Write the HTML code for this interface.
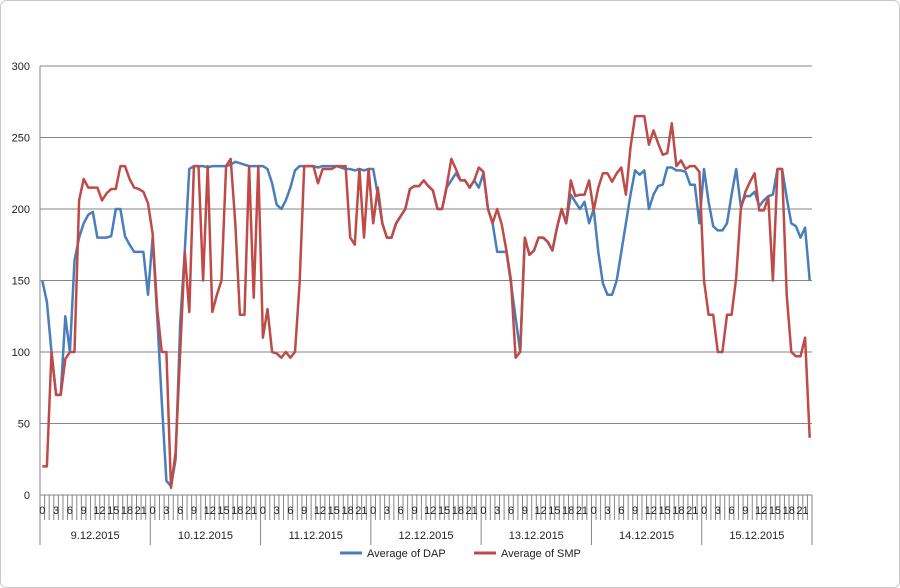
<!DOCTYPE html>
<html><head><meta charset="utf-8"><style>
body{margin:0;background:#fff;}
svg{display:block;font-family:"Liberation Sans",sans-serif;}
</style></head><body>
<svg id="chart" width="900" height="588" viewBox="0 0 900 588">
<rect x="0.5" y="0.5" width="899" height="587" rx="6" fill="#fff" stroke="#c8c8c8"/>
<g id="grid"></g>
<g id="yticks"></g>
<g id="xaxis"></g>
<g id="series"></g>
<g>
<g><line x1="340" y1="553" x2="362" y2="553" stroke="#4a7ebb" stroke-width="3"/><text x="367" y="557" font-size="11" fill="#222">Average of DAP</text></g>
<g><line x1="474" y1="553" x2="496" y2="553" stroke="#be4b48" stroke-width="3"/><text x="501" y="557" font-size="11" fill="#222">Average of SMP</text></g>
</g>
</svg>
<script>
const days=["9.12.2015","10.12.2015","11.12.2015","12.12.2015","13.12.2015","14.12.2015","15.12.2015"];
const yTicks=[0,50,100,150,200,250,300];
const dap=[150,135,100,70,70,125,100,164,180,190,196,198,180,180,180,181,200,200,181,175,170,170,170,140,
180,125,65,10,6,25,120,171,228,230,230,230,229,230,230,230,230,231,233,232,231,230,230,230,
230,228,218,203,200,206,215,227,230,230,230,230,229,230,230,230,230,229,228,228,227,228,227,228,
228,210,190,180,180,190,195,200,214,216,216,220,216,213,200,200,215,220,225,220,220,215,220,215,
225,200,190,170,170,170,148,124,100,180,168,171,180,180,177,171,187,200,190,210,205,200,205,190,
200,170,148,140,140,150,170,190,210,227,224,227,200,210,216,217,229,229,227,227,226,217,217,190,
228,205,188,185,185,190,210,228,202,209,209,212,202,206,209,210,228,228,208,190,188,180,187,150];
const smp=[20,20,100,70,70,95,100,100,206,221,215,215,215,206,211,214,214,230,230,221,215,214,212,204,
183,130,100,100,5,30,100,170,128,230,230,150,230,128,140,150,230,235,190,126,126,230,138,230,
110,130,100,99,96,100,96,100,148,230,230,230,218,228,228,228,230,230,230,180,175,228,180,228,
190,215,190,180,180,190,195,200,214,216,216,220,216,213,200,200,216,235,228,220,220,215,220,229,
226,200,190,200,189,171,150,96,100,180,168,171,180,180,177,171,187,200,190,220,209,210,210,220,
199,215,225,225,219,225,229,210,243,265,265,265,245,255,246,238,239,260,230,234,228,230,230,226,
150,126,126,100,100,126,126,152,200,212,219,225,199,199,208,150,228,228,140,100,97,97,110,40];
const NS="http://www.w3.org/2000/svg";
const X0=40,X1=812,Y0=495,Y1=66,N=dap.length;
const cw=(X1-X0)/N;
const xs=i=>X0+(i+0.5)*cw;
const ys=v=>Y0-(v/300)*(Y0-Y1);
function mk(tag,attrs,parent){const e=document.createElementNS(NS,tag);for(const k in attrs)e.setAttribute(k,attrs[k]);parent.appendChild(e);return e;}
const grid=document.getElementById('grid'),yt=document.getElementById('yticks'),xa=document.getElementById('xaxis'),ser=document.getElementById('series');
yTicks.forEach(v=>{
  if(v>0){const g=mk('line',{x1:X0,x2:X1,y1:ys(v),y2:ys(v),stroke:'#868686','stroke-width':1},grid);
  
  }
  const t=mk('text',{x:X0-10,y:ys(v)+4,'text-anchor':'end','font-size':11,fill:'#222'},yt);t.textContent=v;
  
  
});
mk('line',{x1:X0,x2:X0,y1:Y1,y2:Y0,stroke:'#868686'},xa);
mk('line',{x1:X0,x2:X1,y1:Y0,y2:Y0,stroke:'#868686'},xa);
for(let i=0;i<=N;i++){
  const x=X0+i*cw;const isDay=i%24===0;
  mk('line',{x1:x,x2:x,y1:Y0,y2:isDay?545:520,stroke:'#868686','stroke-width':1},xa);
}
for(let i=0;i<N;i++){
  const h=i%24;
  if(h%3===0){const t=mk('text',{x:xs(i)+(h>=12?2:0),y:514,'text-anchor':'middle','font-size':11,fill:'#222'},xa);t.textContent=h;
  
  }
}
days.forEach((d,k)=>{
  const t=mk('text',{x:X0+(k*24+12)*cw,y:539,'text-anchor':'middle','font-size':11,fill:'#222'},xa);t.textContent=d;
  
  
});
function line(data,color,name){
  const p=mk('polyline',{points:data.map((v,i)=>xs(i).toFixed(1)+','+ys(v).toFixed(1)).join(' '),fill:'none',stroke:color,'stroke-width':2.5,'stroke-linejoin':'round'},ser);
  
  
}
line(dap,'#4a7ebb','dap-line');
line(smp,'#be4b48','smp-line');
</script>
</body></html>
